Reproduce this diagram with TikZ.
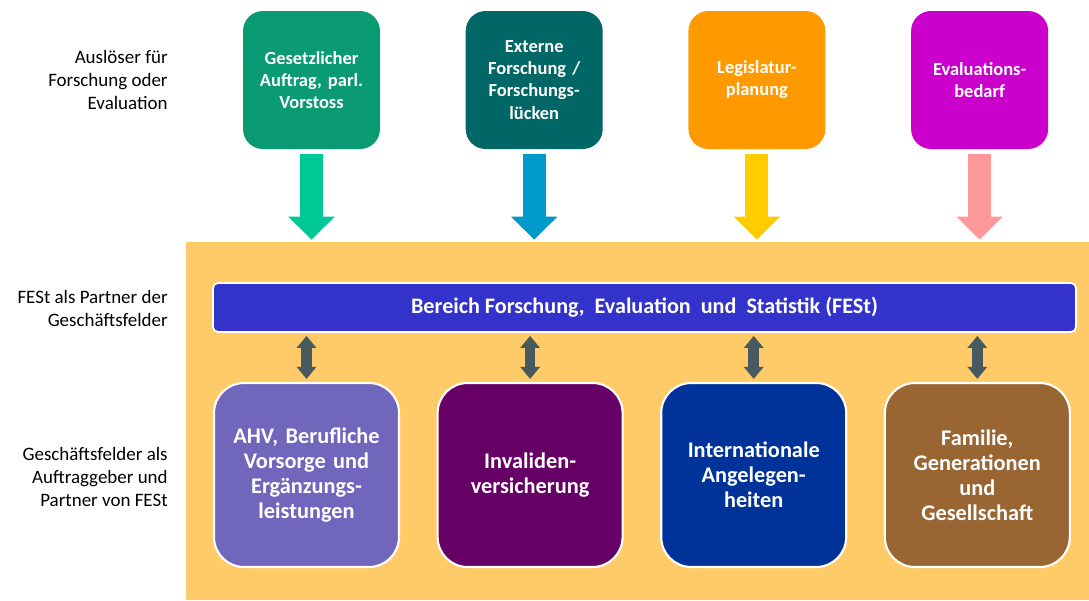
\documentclass[tikz,border=0pt]{standalone}
\usepackage{fontspec}
\setmainfont{Carlito}
\usetikzlibrary{%
    arrows.meta,
    positioning
}
\definecolor{trigA}{HTML}{0A9A74}
\definecolor{trigB}{HTML}{006666}
\definecolor{trigC}{HTML}{FF9900}
\definecolor{trigD}{HTML}{CC00CC}
\definecolor{arrA}{HTML}{00C896}
\definecolor{arrB}{HTML}{0099CC}
\definecolor{arrC}{HTML}{FFCC00}
\definecolor{arrD}{HTML}{FF9999}
\definecolor{panelyellow}{HTML}{FFCB69}
\definecolor{festblue}{HTML}{3333CC}
\definecolor{linkgray}{HTML}{475A60}
\definecolor{fieldA}{HTML}{7066BB}
\definecolor{fieldB}{HTML}{660066}
\definecolor{fieldC}{HTML}{003399}
\definecolor{fieldD}{HTML}{996633}
\tikzset{trigger/.style = {rounded corners=0.4cm, minimum width=2.74cm,
    minimum height=2.76cm, inner sep=0pt, text width=2.6cm, align=center,
    text=white, font=\fontsize{10.5}{12.6}\selectfont\bfseries}}
\tikzset{field/.style = {draw=white, line width=1.2pt, rounded corners=0.6cm,
    minimum width=3.7cm, minimum height=3.68cm, inner sep=0pt, text width=3.5cm,
    align=center, text=white, font=\fontsize{12.7}{14.3}\selectfont\bfseries}}
\tikzset{fatarrow/.style = {line width=0.46cm, -{Triangle[width=0.9cm,length=0.46cm]}}}
\tikzset{linkarrow/.style = {draw=linkgray, line width=0.21cm,
    {Triangle[width=0.38cm,length=0.24cm]}-{Triangle[width=0.38cm,length=0.24cm]}}}
\tikzset{sidelabel/.style = {anchor=east, align=right, inner sep=0pt,
    font=\fontsize{10.8}{13}\selectfont}}

\begin{document}
\begin{tikzpicture}
    \useasboundingbox (0,0) rectangle (21.78,-12);

    % background panel
    \node[fill=panelyellow, minimum width=18.06cm, minimum height=7.16cm,
        inner sep=0pt] (panel) at (12.75,-8.42) {};

    % triggers
    \node[trigger, fill=trigA] (t-1) at (6.23,-1.6) {Gesetzlicher\\Auftrag, parl.\\Vorstoss};
    \foreach \x/\col/\Label [remember=\x as \lastx (initially 1)] in {%
        2/trigB/{Externe\\Forschung /\\Forschungs-\\lücken},
        3/trigC/{Legislatur-\\planung},
        4/trigD/{Evaluations-\\bedarf}%
        }
        \node[trigger, fill=\col, right=1.7cm of t-\lastx] (t-\x) {\Label};

    \foreach \x/\col in {1/arrA,2/arrB,3/arrC,4/arrD}
        \draw[fatarrow, draw=\col] ([yshift=-0.1cm]t-\x.south) -- ([yshift=0.04cm]t-\x.south |- panel.north);

    % FESt bar
    \node[draw=white, line width=1pt, fill=festblue, rounded corners=0.1cm,
        minimum width=17.26cm, minimum height=0.98cm, text=white,
        font=\fontsize{12.6}{15}\selectfont\bfseries] (fest) at (12.89,-6.15)
        {Bereich Forschung, \ Evaluation \ und \ Statistik (FESt)};

    % fields
    \node[field, fill=fieldA] (f-1) at (6.13,-9.5) {AHV, Berufliche\\Vorsorge und\\Ergänzungs-\\leistungen};
    \foreach \x/\col/\Label [remember=\x as \lastx (initially 1)] in {%
        2/fieldB/{Invaliden-\\versicherung},
        3/fieldC/{Internationale\\Angelegen-\\heiten},
        4/fieldD/{Familie,\\Generationen\\und\\Gesellschaft}%
        }
        \node[field, fill=\col, right=0.73cm of f-\lastx] (f-\x) {\Label};

    \foreach \x in {1,...,4}
        \draw[linkarrow] ([yshift=-0.06cm]fest.south -| f-\x.north) -- ([yshift=0.06cm]f-\x.north);

    % side labels
    \node[sidelabel] (l-1) at (3.36,-1.6) {Auslöser für\\Forschung oder\\Evaluation};
    \node[sidelabel] (l-2) at (3.36,-6.17) {FESt als Partner der\\Geschäftsfelder};
    \node[sidelabel] (l-3) at (3.36,-9.54) {Geschäftsfelder als\\Auftraggeber und\\Partner von FESt};
\end{tikzpicture}
\end{document}
